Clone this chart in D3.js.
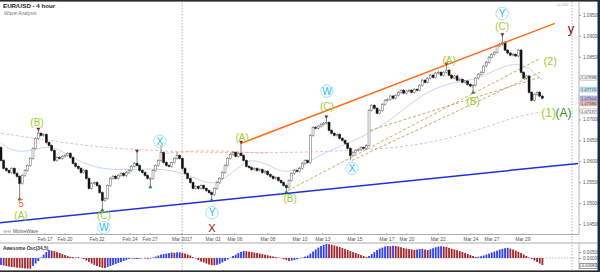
<!DOCTYPE html>
<html>
<head>
<meta charset="utf-8">
<script src="https://cdn.jsdelivr.net/npm/d3@7"></script>
<style>
  body { margin: 0; background: #fff; }
  svg { display: block; font-family: "Liberation Sans", Arial, sans-serif; }
</style>
</head>
<body>
<div id="chart"></div>
<script>
// EUR/USD 4 hour closes, one per bar
const firstOpen = 1.0633;
const closes = [
  1.0602,1.0583,1.0578,1.0573,1.0583,1.0571,1.0564,1.0547,1.0566,1.0578,
  1.0590,1.0607,1.0631,1.0655,1.0667,1.0662,1.0664,1.0645,1.0638,1.0626,
  1.0602,1.0609,1.0607,1.0612,1.0614,1.0619,1.0609,1.0595,1.0588,1.0583,
  1.0573,1.0578,1.0559,1.0535,1.0547,1.0549,1.0542,1.0525,1.0506,1.0511,
  1.0542,1.0559,1.0564,1.0559,1.0566,1.0571,1.0566,1.0573,1.0578,1.0588,
  1.0595,1.0590,1.0578,1.0573,1.0566,1.0559,1.0559,1.0578,1.0590,1.0602,
  1.0621,1.0597,1.0590,1.0588,1.0597,1.0607,1.0614,1.0607,1.0583,1.0571,
  1.0559,1.0549,1.0535,1.0540,1.0535,1.0542,1.0535,1.0530,1.0525,1.0520,
  1.0535,1.0549,1.0559,1.0573,1.0590,1.0607,1.0616,1.0621,1.0612,1.0619,
  1.0614,1.0602,1.0588,1.0585,1.0580,1.0583,1.0578,1.0580,1.0573,1.0576,
  1.0568,1.0564,1.0559,1.0561,1.0554,1.0549,1.0542,1.0537,1.0554,1.0571,
  1.0578,1.0576,1.0583,1.0595,1.0602,1.0597,1.0662,1.0681,1.0679,1.0684,
  1.0688,1.0691,1.0693,1.0674,1.0667,1.0662,1.0664,1.0655,1.0650,1.0643,
  1.0631,1.0614,1.0621,1.0626,1.0628,1.0633,1.0631,1.0638,1.0722,1.0734,
  1.0727,1.0715,1.0722,1.0736,1.0746,1.0748,1.0756,1.0751,1.0758,1.0765,
  1.0770,1.0763,1.0768,1.0770,1.0765,1.0772,1.0770,1.0782,1.0794,1.0789,
  1.0799,1.0806,1.0801,1.0811,1.0813,1.0806,1.0813,1.0818,1.0806,1.0799,
  1.0804,1.0794,1.0796,1.0789,1.0792,1.0784,1.0780,1.0782,1.0799,1.0808,
  1.0813,1.0828,1.0837,1.0849,1.0856,1.0861,1.0876,1.0880,1.0885,1.0866,
  1.0859,1.0854,1.0856,1.0852,1.0866,1.0813,1.0799,1.0804,1.0765,1.0746,
  1.0760,1.0765,1.0756,1.0751
];
// bars whose wick reaches a swing point: [bar, price]
const swingHighs = [[14,1.0674],[51,1.0621],[60,1.0633],[66,1.0621],[90,1.0643],[122,1.0703],[167,1.0830],[188,1.0900]];
const swingLows = [[7,1.0513],[38,1.0487],[56,1.0542],[79,1.0511],[107,1.0530],[131,1.0602],[177,1.0768]];
const markedHighs = [14,51,60,90,122,167,188];
const markedLows = [7,38,56,79,107,177];

// Awesome Oscillator, in pips (1e-4)
const aoPips = [
  -58,-62,-67,-71,-75,-77,-80,-82,-85,-87,
  -88,-89,-67,-46,-25,4,29,50,67,62,
  57,50,42,33,25,17,10,7,4,6,
  2,-8,-21,-33,-46,-58,-67,-75,-82,-84,
  -75,-67,-58,-50,-42,-33,-25,-17,-8,-4,
  -7,-8,-5,-2,-4,-7,-4,4,12,21,
  29,33,37,42,46,44,47,48,43,37,
  29,21,8,-4,-17,-29,-37,-46,-54,-60,
  -61,-57,-48,-37,-25,-12,2,17,29,42,
  50,58,57,53,50,46,42,37,33,28,
  23,18,13,8,4,-2,-10,-17,-25,-21,
  -17,-10,-3,4,12,21,37,54,71,87,
  100,110,117,115,111,105,98,92,83,75,
  67,58,50,42,33,25,17,8,17,33,
  50,67,79,87,96,100,98,102,100,96,
  90,83,79,75,71,67,71,75,77,71,
  67,73,82,90,96,98,96,92,85,78,
  72,65,58,50,42,33,25,17,8,11,
  15,21,29,37,46,54,62,71,77,82,
  85,79,71,62,52,42,29,17,4,-8,
  -21,-33,-46,-58
];

// moving averages, [bar, price]
const maFast = [[0,1.0643],[7,1.0614],[18,1.0643],[25,1.0614],[33,1.0590],[41,1.0578],[56,1.0583],[66,1.0578],[75,1.0554],[80,1.0542],[88,1.0578],[93,1.0609],[101,1.0590],[106,1.0571],[112,1.0583],[120,1.0619],[131,1.0643],[145,1.0691],[157,1.0758],[168,1.0789],[178,1.0794],[185,1.0818],[193,1.0837],[198,1.0823],[203,1.0794]];
const maSlow = [[0,1.0667],[18,1.0650],[37,1.0633],[56,1.0626],[75,1.0621],[93,1.0621],[112,1.0621],[131,1.0626],[150,1.0633],[165,1.0650],[176,1.0669],[187,1.0693],[195,1.0710],[203,1.0718]];
const maMid = [[62,1.0619],[70,1.0624],[80,1.0626],[93,1.0621],[100,1.0619]];

// trend lines, [bar, price] pairs
const orangeLine = [[90,1.0643],[207.7,1.0930]];
const blueLine = [[-0.4,1.0453],[216.4,1.0595]];
const oliveLines = [
  [[107.6,1.0530],[202.1,1.0846]],
  [[131.6,1.0602],[202.1,1.0813]],
  [[138.4,1.0674],[202.1,1.0801]]
];
const abLine = [[167.6,1.0826],[177,1.0776]];

const priceTicks = [1.045,1.05,1.055,1.06,1.065,1.07,1.085,1.09,1.095];
const aoTicks = [0, 50];
const timeLabels = [["Feb 17",16.5],["Feb 20",24],["Feb 22",36],["Feb 24",48.4],["Feb 27",55.9],["Mar 2017",67.9],["Mar 03",79.5],["Mar 06",87.7],["Mar 08",100.1],["Mar 10",112.1],["Mar 13",120.7],["Mar 15",132.7],["Mar 17",144.7],["Mar 20",152.2],["Mar 22",163.9],["Mar 24",176.2],["Mar 27",184.1],["Mar 29",195.7]];

// price markers on the right scale: [price, fill, border]
const priceBoxes = [[1.07998,"#ffffff","#888"],[1.07715,"#cde9f6","#6aa6c8"],[1.07504,"#c6c3ee","#7a74c0"],[1.07386,"#f0c4c4","#c07070"],[1.07197,"#ffffff","#888"]];

// wave labels: text, bar, price, colour, size, circled
const waveLabels = [
  ["5",7.5,1.0499,"#ff5a1f",10,false],
  ["(A)",7.5,1.0470,"#9fcc2e",10,false],
  ["(B)",13.5,1.0693,"#9fcc2e",10,false],
  ["(C)",38.6,1.0470,"#9fcc2e",10,false],
  ["W",38.6,1.0441,"#27bdf0",10,true],
  ["X",59.6,1.0648,"#27bdf0",10,true],
  ["Y",79.1,1.0477,"#27bdf0",10,true],
  ["X",79.1,1.0439,"#8b0f0f",11,false],
  ["(A)",90.4,1.0657,"#9fcc2e",10,false],
  ["(B)",108.4,1.0511,"#9fcc2e",10,false],
  ["W",122.2,1.0768,"#27bdf0",10,true],
  ["(C)",122.2,1.0731,"#9fcc2e",10,false],
  ["X",131.6,1.0583,"#27bdf0",10,true],
  ["(A)",168,1.0842,"#9fcc2e",10,false],
  ["(B)",177,1.0743,"#9fcc2e",10,false],
  ["Y",187.9,1.0954,"#27bdf0",10,true],
  ["(C)",187.9,1.0923,"#9fcc2e",10,false],
  ["y",213.7,1.0919,"#8b0f0f",13,false],
  ["(2)",205.9,1.0840,"#9fcc2e",11,false],
  ["(1)",205.3,1.0715,"#9fcc2e",12,false],
  ["(A)",210.9,1.0715,"#2e8b2e",12,false]
];

const width = 600, height = 272;
const axisX = 579, mainBottom = 234.5, oscTop = 243, oscBottom = 270;

const svg = d3.select("#chart").append("svg")
  .attr("width", width).attr("height", height);

const x = d3.scaleLinear().domain([0, closes.length - 1]).range([1, 542.4]);
const y = d3.scaleLinear().domain([1.045, 1.095]).range([224, 15]);
const yo = d3.scaleLinear().domain([-100, 117]).range([270, 244]);

svg.append("defs").append("clipPath").attr("id", "mainClip")
  .append("rect").attr("x", 0).attr("y", 2).attr("width", axisX).attr("height", mainBottom - 2);

// frame and panel separators
svg.append("line").attr("x1", 0).attr("x2", axisX).attr("y1", mainBottom).attr("y2", mainBottom).attr("stroke", "#999").attr("stroke-width", 0.8);
svg.append("line").attr("x1", 0).attr("x2", 597).attr("y1", oscTop).attr("y2", oscTop).attr("stroke", "#999").attr("stroke-width", 0.8);
svg.append("line").attr("x1", axisX).attr("x2", axisX).attr("y1", 2).attr("y2", mainBottom).attr("stroke", "#aaa").attr("stroke-width", 0.8);
svg.append("line").attr("x1", axisX).attr("x2", axisX).attr("y1", oscTop).attr("y2", oscBottom).attr("stroke", "#aaa").attr("stroke-width", 0.8);

// dotted verticals: month start and right edge of data area
const monthX = x(67.9);
[monthX, 572].forEach(vx => {
  svg.append("line").attr("x1", vx).attr("x2", vx).attr("y1", 2).attr("y2", oscBottom)
    .attr("stroke", "#999").attr("stroke-width", 0.7).attr("stroke-dasharray", "1.5,1.5");
});

const main = svg.append("g").attr("clip-path", "url(#mainClip)");

// moving averages
const line = d3.line().x(d => x(d[0])).y(d => y(d[1])).curve(d3.curveBasis);
main.append("path").datum(maSlow).attr("d", line).attr("fill", "none")
  .attr("stroke", "#e6b4d8").attr("stroke-width", 0.9).attr("stroke-dasharray", "3,2");
main.append("path").datum(maMid).attr("d", line).attr("fill", "none")
  .attr("stroke", "#f5b48c").attr("stroke-width", 0.9).attr("stroke-dasharray", "3,2");
main.append("path").datum(maFast).attr("d", line).attr("fill", "none")
  .attr("stroke", "#b4cdf0").attr("stroke-width", 0.8);

// trend lines
const straight = d3.line().x(d => x(d[0])).y(d => y(d[1]));
oliveLines.forEach(l => {
  main.append("path").datum(l).attr("d", straight).attr("fill", "none")
    .attr("stroke", "#b3a853").attr("stroke-width", 0.9).attr("stroke-dasharray", "3,2");
});
main.append("path").datum(abLine).attr("d", straight).attr("fill", "none")
  .attr("stroke", "#f0a888").attr("stroke-width", 0.8).attr("stroke-dasharray", "2,2");

// candles
const highMap = new Map(swingHighs), lowMap = new Map(swingLows);
const candles = closes.map((c, i) => {
  const o = i === 0 ? firstOpen : closes[i - 1];
  return { i, o, c, h: highMap.get(i), l: lowMap.get(i) };
});
const cg = main.append("g");
cg.selectAll("line.wick").data(candles).enter().append("line")
  .attr("x1", d => x(d.i)).attr("x2", d => x(d.i))
  .attr("y1", d => d.h !== undefined ? y(d.h) : y(Math.max(d.o, d.c)) - 1.2)
  .attr("y2", d => d.l !== undefined ? y(d.l) : y(Math.min(d.o, d.c)) + 1.2)
  .attr("stroke", "#333").attr("stroke-width", 0.6);
cg.selectAll("rect").data(candles).enter().append("rect")
  .attr("x", d => x(d.i) - 1)
  .attr("width", 2)
  .attr("y", d => y(Math.max(d.o, d.c)))
  .attr("height", d => Math.max(0.8, Math.abs(y(d.o) - y(d.c))))
  .attr("fill", d => d.c >= d.o ? "#fff" : "#111")
  .attr("stroke", d => d.c >= d.o ? "#666" : "#111")
  .attr("stroke-width", 0.5);

main.append("path").datum(orangeLine).attr("d", straight).attr("fill", "none")
  .attr("stroke", "#ff6b1a").attr("stroke-width", 1.5);
main.append("path").datum(blueLine).attr("d", straight).attr("fill", "none")
  .attr("stroke", "#1f2fe0").attr("stroke-width", 1.5);

// swing markers
const tri = d3.symbol().type(d3.symbolTriangle).size(7);
main.selectAll("path.hi").data(markedHighs).enter().append("path")
  .attr("d", tri)
  .attr("transform", i => `translate(${x(i)},${y(highMap.get(i)) - 1.5}) rotate(180)`)
  .attr("fill", "#8b2323");
main.selectAll("path.lo").data(markedLows).enter().append("path")
  .attr("d", tri)
  .attr("transform", i => `translate(${x(i)},${y(lowMap.get(i)) + 1.5})`)
  .attr("fill", "#1f8a3a");

// wave labels
const wl = svg.append("g");
waveLabels.forEach(([t, i, p, col, size, circled]) => {
  const g = wl.append("g").attr("transform", `translate(${x(i)},${y(p)})`);
  if (circled) {
    g.append("circle").attr("r", 6.2).attr("fill", "#fff").attr("fill-opacity", 0.7)
      .attr("stroke", "#9fe2fb").attr("stroke-width", 1);
  }
  g.append("text").attr("text-anchor", "middle").attr("dy", "0.35em")
    .attr("font-size", size).attr("fill", col).text(t);
});

// title
svg.append("text").attr("x", 3).attr("y", 8).attr("font-size", 6.2).attr("font-weight", "bold").attr("fill", "#222").text("EUR/USD - 4 hour");
svg.append("text").attr("x", 4).attr("y", 14.5).attr("font-size", 5).attr("font-style", "italic").attr("fill", "#777").text("Wave Analysis");
svg.append("text").attr("x", 556).attr("y", 6).attr("font-size", 4).attr("fill", "#aaa").text("+0.020");

// right price axis
const yAxis = svg.append("g").attr("transform", `translate(${axisX},0)`)
  .call(d3.axisRight(y).tickValues(priceTicks).tickFormat(d3.format(".5f")).tickSize(2).tickPadding(2));
yAxis.select(".domain").remove();
yAxis.selectAll(".tick line").attr("stroke", "#999");
yAxis.selectAll(".tick text").attr("font-size", 4.6).attr("fill", "#555");
const minor = svg.append("g").attr("transform", `translate(${axisX},0)`)
  .call(d3.axisRight(y).tickValues(d3.range(1.0405, 1.0975, 0.0005)).tickFormat("").tickSize(1));
minor.select(".domain").remove();
minor.selectAll(".tick line").attr("stroke", "#bbb").attr("stroke-width", 0.5);

const boxes = svg.append("g");
priceBoxes.forEach(([p, fill, border]) => {
  boxes.append("rect").attr("x", 580).attr("y", y(p) - 2.4).attr("width", 17).attr("height", 4.8)
    .attr("rx", 1).attr("fill", fill).attr("stroke", border).attr("stroke-width", 0.5);
  boxes.append("text").attr("x", 588.5).attr("y", y(p)).attr("dy", "0.35em")
    .attr("text-anchor", "middle").attr("font-size", 4.2).attr("fill", "#333").text(p.toFixed(5));
});

// time axis
const tAxis = svg.append("g");
timeLabels.forEach(([t, i]) => {
  tAxis.append("line").attr("x1", x(i)).attr("x2", x(i)).attr("y1", mainBottom - 1.5).attr("y2", mainBottom)
    .attr("stroke", "#888").attr("stroke-width", 0.6);
  tAxis.append("text").attr("x", x(i)).attr("y", 241).attr("text-anchor", "middle")
    .attr("font-size", 4.8).attr("fill", "#555").text(t);
});
svg.append("text").attr("x", 13).attr("y", 233).attr("font-size", 4.6).attr("fill", "#555").text("MotiveWave");
svg.append("text").attr("x", 3).attr("y", 233).attr("font-size", 4.6).attr("fill", "#999").text("⊖⊖");

// Awesome oscillator
svg.append("text").attr("x", 3).attr("y", 250).attr("font-size", 4.8).attr("font-weight", "bold").attr("fill", "#333").text("Awesome Osc(34,5)");
svg.append("line").attr("x1", 0).attr("x2", 576).attr("y1", yo(0)).attr("y2", yo(0))
  .attr("stroke", "#888").attr("stroke-width", 0.6).attr("stroke-dasharray", "1.5,1.5");
svg.append("g").selectAll("rect").data(aoPips).enter().append("rect")
  .attr("x", (d, i) => x(i) - 0.9).attr("width", 1.8)
  .attr("y", d => yo(Math.max(0, d)))
  .attr("height", d => Math.abs(yo(d) - yo(0)))
  .attr("fill", (d, i) => (i === 0 || d > aoPips[i - 1]) ? "#2e3ff0" : "#a4262c");

const oAxis = svg.append("g").attr("transform", `translate(${axisX},0)`)
  .call(d3.axisRight(yo).tickValues(aoTicks).tickFormat(d => (d / 10000).toFixed(5)).tickSize(2).tickPadding(2));
oAxis.select(".domain").remove();
oAxis.selectAll(".tick line").attr("stroke", "#999");
oAxis.selectAll(".tick text").attr("font-size", 4.6).attr("fill", "#555");
const lastAo = aoPips[aoPips.length - 1];
svg.append("rect").attr("x", 580).attr("y", 263.5).attr("width", 17).attr("height", 5)
  .attr("fill", "#fff").attr("stroke", "#555").attr("stroke-width", 0.6);
svg.append("text").attr("x", 588.5).attr("y", 266).attr("dy", "0.35em").attr("text-anchor", "middle")
  .attr("font-size", 4.2).attr("fill", "#333").text((lastAo / 10000).toFixed(5));

// outer frame
svg.append("rect").attr("x", 0).attr("y", 0).attr("width", width).attr("height", 1.6).attr("fill", "#2a2a2a");
svg.append("rect").attr("x", 0).attr("y", 270.4).attr("width", width).attr("height", 1.6).attr("fill", "#2a2a2a");
svg.append("rect").attr("x", 597.5).attr("y", 0).attr("width", 2.5).attr("height", height).attr("fill", "#1d2b45");
</script>
</body>
</html>
